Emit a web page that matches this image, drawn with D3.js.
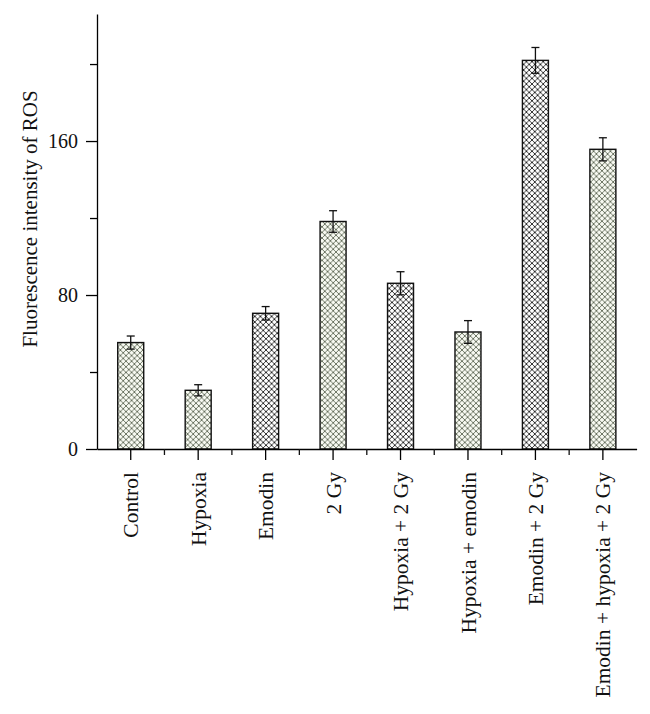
<!DOCTYPE html>
<html>
<head>
<meta charset="utf-8">
<script src="https://d3js.org/d3.v7.min.js"></script>
<style>
  body { margin: 0; background: #fff; }
  svg { display: block; }
  text { font-family: "Liberation Serif", "DejaVu Serif", serif; fill: #111; }
</style>
</head>
<body>
<svg id="chart-svg"></svg>
<script>
const categories = ["Control", "Hypoxia", "Emodin", "2 Gy", "Hypoxia + 2 Gy",
    "Hypoxia + emodin", "Emodin + 2 Gy", "Emodin + hypoxia + 2 Gy"];
const rosMeans = [55.3, 30.5, 70.5, 118.2, 86.1, 60.8, 201.9, 155.7];
const rosErrors = [3.4, 2.9, 3.5, 5.6, 6.0, 5.9, 6.7, 6.0];
const yMajorTicks = [0, 80, 160];
const yMinorTicks = [40, 120, 200];

const width = 650;
const height = 714;

let svg = d3.select("#chart-svg")
    .attr("width", width)
    .attr("height", height);

// hatch patterns: a darker one and a lighter greenish one
const defs = svg.append("defs");
function addHatch(id, bg, stroke, sw) {
    const p = defs.append("pattern")
        .attr("id", id)
        .attr("patternUnits", "userSpaceOnUse")
        .attr("width", 5.6)
        .attr("height", 5.6);
    p.append("rect").attr("width", 5.6).attr("height", 5.6).attr("fill", bg);
    p.append("path")
        .attr("d", "M0,0L5.6,5.6M5.6,0L0,5.6")
        .attr("stroke", stroke)
        .attr("stroke-width", sw);
}
addHatch("hatch-dark", "#ffffff", "#1c1c1c", 0.9);
addHatch("hatch-light", "#f8faf2", "#3f4a36", 0.75);
const denseBars = ["Emodin", "Hypoxia + 2 Gy", "Emodin + 2 Gy"];

const x = d3.scaleBand()
    .domain(categories)
    .range([97, 636.6])
    .padding(0);

const y = d3.scaleLinear()
    .domain([0, 226])
    .range([449, 14]);

const barW = 26;

// bars
svg.selectAll("rect.bar")
    .data(categories)
    .enter()
    .append("rect")
    .attr("class", "bar")
    .attr("x", d => x(d) + x.bandwidth() / 2 - barW / 2)
    .attr("y", (d, i) => y(rosMeans[i]))
    .attr("width", barW)
    .attr("height", (d, i) => y(0) - y(rosMeans[i]))
    .attr("fill", d => denseBars.includes(d) ? "url(#hatch-dark)" : "url(#hatch-light)")
    .attr("stroke", "#111")
    .attr("stroke-width", 1.4);

// error bars
const capW = 8;
const err = svg.append("g").attr("stroke", "#111").attr("stroke-width", 1.3);
categories.forEach((d, i) => {
    const cx = x(d) + x.bandwidth() / 2;
    const lo = y(rosMeans[i] - rosErrors[i]);
    const hi = y(rosMeans[i] + rosErrors[i]);
    err.append("line").attr("x1", cx).attr("x2", cx).attr("y1", hi).attr("y2", lo);
    err.append("line").attr("x1", cx - capW / 2).attr("x2", cx + capW / 2).attr("y1", hi).attr("y2", hi);
    err.append("line").attr("x1", cx - capW / 2).attr("x2", cx + capW / 2).attr("y1", lo).attr("y2", lo);
});

// y axis
const yAxis = svg.append("g")
    .attr("transform", "translate(97,0)")
    .call(d3.axisLeft(y).tickValues(yMajorTicks).tickSize(11).tickPadding(8).tickSizeOuter(0));
yAxis.select(".domain").attr("stroke-width", 1.3);
yAxis.selectAll(".tick line").attr("stroke-width", 1.3);
yAxis.selectAll(".tick text")
    .style("font-family", "Liberation Serif, serif")
    .style("font-size", "20px")
    .attr("fill", "#111");

svg.append("g")
    .attr("transform", "translate(97,0)")
    .call(d3.axisLeft(y).tickValues(yMinorTicks).tickSize(7).tickFormat(""))
    .call(g => g.select(".domain").remove())
    .selectAll("line").attr("stroke-width", 1.3);

// x axis
const xAxis = svg.append("g")
    .attr("transform", "translate(0," + y(0) + ")")
    .call(d3.axisBottom(x).tickSize(11).tickSizeOuter(0).tickFormat(""));
xAxis.select(".domain").attr("stroke-width", 1.3);
xAxis.selectAll(".tick line").attr("stroke-width", 1.3);

// minor x ticks between bars
svg.append("g")
    .selectAll("line")
    .data(categories.slice(1))
    .enter()
    .append("line")
    .attr("x1", d => x(d))
    .attr("x2", d => x(d))
    .attr("y1", y(0))
    .attr("y2", y(0) + 6)
    .attr("stroke", "#111")
    .attr("stroke-width", 1.3);

// rotated category labels
svg.selectAll("text.cat")
    .data(categories)
    .enter()
    .append("text")
    .attr("class", "cat")
    .attr("transform", d => "translate(" + (x(d) + x.bandwidth() / 2) + ",472) rotate(-90)")
    .attr("text-anchor", "end")
    .attr("dy", "0.35em")
    .attr("font-size", "21.5px")
    .text(d => d);

// y axis title
svg.append("text")
    .attr("transform", "translate(30,219) rotate(-90)")
    .attr("text-anchor", "middle")
    .attr("dy", "0.35em")
    .attr("font-size", "21px")
    .text("Fluorescence intensity of ROS");
</script>
</body>
</html>
